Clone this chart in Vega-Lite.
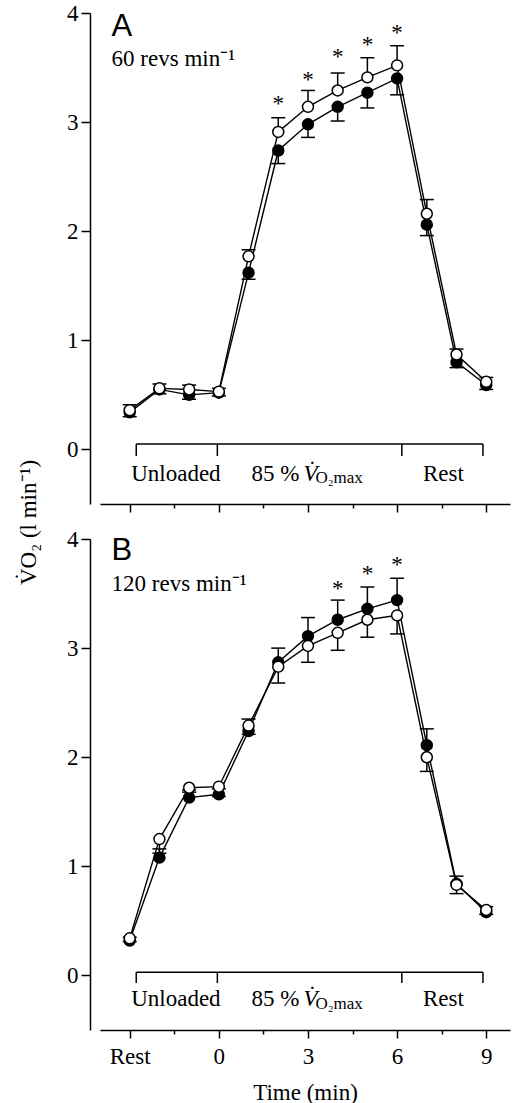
{
  "$schema": "https://vega.github.io/schema/vega-lite/v6.json",
  "background": "white",
  "padding": {"left": 17, "top": 2, "right": 3, "bottom": 0},
  "bounds": "flush",
  "spacing": 35,
  "config": {
    "view": {"stroke": null},
    "axis": {"domainColor": "black", "tickColor": "black", "labelColor": "black", "titleColor": "black", "labelFont": "Liberation Serif", "titleFont": "Liberation Serif", "labelFontSize": 23, "titleFontSize": 23, "titleFontWeight": "normal", "domainWidth": 1.5, "tickWidth": 1.5, "grid": false, "labelFlush": false},
    "text": {"font": "Liberation Serif", "color": "black"}
  },
  "datasets": {
    "ptsA": [
      {"g": "o", "x": -3, "y": 0.36, "e": 0.41}, {"g": "o", "x": -2, "y": 0.56, "e": 0.60}, {"g": "o", "x": -1, "y": 0.55, "e": 0.59}, {"g": "o", "x": 0, "y": 0.53, "e": 0.56}, {"g": "o", "x": 1, "y": 1.77, "e": 1.83}, {"g": "o", "x": 2, "y": 2.91, "e": 3.04}, {"g": "o", "x": 3, "y": 3.14, "e": 3.29}, {"g": "o", "x": 4, "y": 3.29, "e": 3.45}, {"g": "o", "x": 5, "y": 3.41, "e": 3.59}, {"g": "o", "x": 6, "y": 3.52, "e": 3.70}, {"g": "o", "x": 7, "y": 2.16, "e": 2.29}, {"g": "o", "x": 8, "y": 0.87, "e": 0.92}, {"g": "o", "x": 9, "y": 0.62, "e": 0.66},
      {"g": "f", "x": -3, "y": 0.34, "e": 0.30}, {"g": "f", "x": -2, "y": 0.55, "e": 0.51}, {"g": "f", "x": -1, "y": 0.50, "e": 0.46}, {"g": "f", "x": 0, "y": 0.52, "e": 0.49}, {"g": "f", "x": 1, "y": 1.62, "e": 1.56}, {"g": "f", "x": 2, "y": 2.74, "e": 2.62}, {"g": "f", "x": 3, "y": 2.98, "e": 2.86}, {"g": "f", "x": 4, "y": 3.14, "e": 3.01}, {"g": "f", "x": 5, "y": 3.27, "e": 3.13}, {"g": "f", "x": 6, "y": 3.40, "e": 3.25}, {"g": "f", "x": 7, "y": 2.06, "e": 1.96}, {"g": "f", "x": 8, "y": 0.80, "e": 0.75}, {"g": "f", "x": 9, "y": 0.59, "e": 0.55}
    ],
    "ptsB": [
      {"g": "o", "x": -3, "y": 0.34, "e": 0.31}, {"g": "o", "x": -2, "y": 1.25, "e": 1.12}, {"g": "o", "x": -1, "y": 1.72, "e": 1.68}, {"g": "o", "x": 0, "y": 1.73, "e": 1.64}, {"g": "o", "x": 1, "y": 2.29, "e": 2.21}, {"g": "o", "x": 2, "y": 2.83, "e": 2.68}, {"g": "o", "x": 3, "y": 3.02, "e": 2.87}, {"g": "o", "x": 4, "y": 3.14, "e": 2.98}, {"g": "o", "x": 5, "y": 3.26, "e": 3.10}, {"g": "o", "x": 6, "y": 3.30, "e": 3.13}, {"g": "o", "x": 7, "y": 2.00, "e": 1.87}, {"g": "o", "x": 8, "y": 0.83, "e": 0.75}, {"g": "o", "x": 9, "y": 0.60, "e": 0.56},
      {"g": "f", "x": -3, "y": 0.32, "e": 0.35}, {"g": "f", "x": -2, "y": 1.08, "e": 1.16}, {"g": "f", "x": -1, "y": 1.63, "e": 1.70}, {"g": "f", "x": 0, "y": 1.66, "e": 1.71}, {"g": "f", "x": 1, "y": 2.24, "e": 2.35}, {"g": "f", "x": 2, "y": 2.87, "e": 3.00}, {"g": "f", "x": 3, "y": 3.11, "e": 3.28}, {"g": "f", "x": 4, "y": 3.26, "e": 3.44}, {"g": "f", "x": 5, "y": 3.36, "e": 3.56}, {"g": "f", "x": 6, "y": 3.44, "e": 3.64}, {"g": "f", "x": 7, "y": 2.11, "e": 2.26}, {"g": "f", "x": 8, "y": 0.84, "e": 0.91}, {"g": "f", "x": 9, "y": 0.58, "e": 0.63}
    ],
    "starA": [{"x": 2, "y": 3.19}, {"x": 3, "y": 3.41}, {"x": 4, "y": 3.62}, {"x": 5, "y": 3.73}, {"x": 6, "y": 3.84}],
    "starB": [{"x": 4, "y": 3.57}, {"x": 5, "y": 3.71}, {"x": 6, "y": 3.79}],
    "brkA": [
      {"x": -2.78, "x2": 8.89, "y": 0.05, "y2": 0.05},
      {"x": -2.78, "x2": -2.78, "y": 0.05, "y2": -0.06},
      {"x": -0.05, "x2": -0.05, "y": 0.05, "y2": -0.06},
      {"x": 6.16, "x2": 6.16, "y": 0.05, "y2": -0.06},
      {"x": 8.89, "x2": 8.89, "y": 0.05, "y2": -0.06}
    ],
    "brkB": [
      {"x": -2.78, "x2": 8.89, "y": 0.03, "y2": 0.03},
      {"x": -2.78, "x2": -2.78, "y": 0.03, "y2": -0.07},
      {"x": -0.05, "x2": -0.05, "y": 0.03, "y2": -0.07},
      {"x": 6.16, "x2": 6.16, "y": 0.03, "y2": -0.07},
      {"x": 8.89, "x2": 8.89, "y": 0.03, "y2": -0.07}
    ],
    "txtA": [
      {"k": "let", "x": -3.61, "y": 3.79, "s": "A"},
      {"k": "txt", "x": -3.61, "y": 3.51, "s": "60 revs min⁻¹"},
      {"k": "txt", "x": -2.95, "y": -0.285, "s": "Unloaded"},
      {"k": "txt", "x": 1.10, "y": -0.285, "s": "85 %"},
      {"k": "ital", "x": 2.85, "y": -0.285, "s": "V̇"},
      {"k": "sub", "x": 3.25, "y": -0.31, "s": "O₂max"},
      {"k": "txt", "x": 6.87, "y": -0.285, "s": "Rest"}
    ],
    "txtB": [
      {"k": "let", "x": -3.61, "y": 3.81, "s": "B"},
      {"k": "txt", "x": -3.61, "y": 3.52, "s": "120 revs min⁻¹"},
      {"k": "txt", "x": -2.95, "y": -0.28, "s": "Unloaded"},
      {"k": "txt", "x": 1.10, "y": -0.28, "s": "85 %"},
      {"k": "ital", "x": 2.85, "y": -0.28, "s": "V̇"},
      {"k": "sub", "x": 3.25, "y": -0.305, "s": "O₂max"},
      {"k": "txt", "x": 6.87, "y": -0.28, "s": "Rest"}
    ]
  },
  "vconcat": [
    {
      "width": 410,
      "height": 491,
      "encoding": {
        "x": {"field": "x", "type": "quantitative", "scale": {"domain": [-4, 9.8], "nice": false, "zero": false},
          "axis": {"values": [-3, -1.5, 0, 1.5, 3, 4.5, 6, 7.5, 9], "labels": false, "title": null, "tickSize": {"condition": {"test": "datum.value % 3 === 0", "value": 8}, "value": 4}}},
        "y": {"field": "y", "type": "quantitative", "scale": {"domain": [-0.5, 4], "nice": false, "zero": false},
          "axis": {"values": [0, 0.5, 1, 1.5, 2, 2.5, 3, 3.5, 4], "format": "d", "offset": 10, "labelPadding": 3, "labelExpr": "datum.value % 1 === 0 ? datum.label : ''", "tickSize": {"condition": {"test": "datum.value % 1 === 0", "value": 9}, "value": 4},
            "title": "V̇O₂ (l min⁻¹)", "titleX": -55, "titleY": 509, "titleAngle": 270, "titleAlign": "center", "titleBaseline": "alphabetic"}}
      },
      "layer": [
        {"data": {"name": "brkA"}, "mark": {"type": "rule", "color": "black", "strokeWidth": 1.5}, "encoding": {"x2": {"field": "x2"}, "y2": {"field": "y2"}}},
        {"data": {"name": "txtA"}, "transform": [{"filter": "datum.k === 'txt'"}], "mark": {"type": "text", "align": "left", "baseline": "alphabetic", "fontSize": 23}, "encoding": {"text": {"field": "s"}}},
        {"data": {"name": "txtA"}, "transform": [{"filter": "datum.k === 'ital'"}], "mark": {"type": "text", "align": "left", "baseline": "alphabetic", "fontSize": 23, "fontStyle": "italic"}, "encoding": {"text": {"field": "s"}}},
        {"data": {"name": "txtA"}, "transform": [{"filter": "datum.k === 'sub'"}], "mark": {"type": "text", "align": "left", "baseline": "alphabetic", "fontSize": 17}, "encoding": {"text": {"field": "s"}}},
        {"data": {"name": "txtA"}, "transform": [{"filter": "datum.k === 'let'"}], "mark": {"type": "text", "align": "left", "baseline": "alphabetic", "fontSize": 31, "font": "Liberation Sans"}, "encoding": {"text": {"field": "s"}}},
        {"data": {"name": "ptsA"}, "mark": {"type": "line", "color": "black", "strokeWidth": 1.4}, "encoding": {"detail": {"field": "g"}, "order": {"field": "x"}}},
        {"data": {"name": "ptsA"}, "mark": {"type": "rule", "color": "black", "strokeWidth": 1.5}, "encoding": {"y2": {"field": "e"}}},
        {"data": {"name": "ptsA"}, "mark": {"type": "tick", "orient": "horizontal", "color": "black", "size": 14, "thickness": 1.5, "opacity": 1}, "encoding": {"y": {"field": "e", "type": "quantitative"}}},
        {"data": {"name": "ptsA"}, "transform": [{"filter": "datum.g === 'f'"}], "mark": {"type": "point", "shape": "circle", "filled": true, "fill": "black", "stroke": "black", "strokeWidth": 1.5, "size": 120, "opacity": 1}},
        {"data": {"name": "ptsA"}, "transform": [{"filter": "datum.g === 'o'"}], "mark": {"type": "point", "shape": "circle", "filled": true, "fill": "white", "stroke": "black", "strokeWidth": 1.5, "size": 120, "opacity": 1}},
        {"data": {"name": "starA"}, "mark": {"type": "text", "text": "*", "align": "center", "baseline": "alphabetic", "dy": 10, "fontSize": 23}}
      ]
    },
    {
      "width": 410,
      "height": 491,
      "encoding": {
        "x": {"field": "x", "type": "quantitative", "scale": {"domain": [-4, 9.8], "nice": false, "zero": false},
          "axis": {"values": [-3, -1.5, 0, 1.5, 3, 4.5, 6, 7.5, 9], "labelExpr": "datum.value === -3 ? 'Rest' : (datum.value % 3 === 0 ? datum.label : '')", "labelPadding": 7, "title": "Time (min)", "titlePadding": 13, "tickSize": {"condition": {"test": "datum.value % 3 === 0", "value": 8}, "value": 4}}},
        "y": {"field": "y", "type": "quantitative", "scale": {"domain": [-0.5, 4], "nice": false, "zero": false},
          "axis": {"values": [0, 0.5, 1, 1.5, 2, 2.5, 3, 3.5, 4], "format": "d", "offset": 10, "labelPadding": 3, "labelExpr": "datum.value % 1 === 0 ? datum.label : ''", "tickSize": {"condition": {"test": "datum.value % 1 === 0", "value": 9}, "value": 4}, "title": null}}
      },
      "layer": [
        {"data": {"name": "brkB"}, "mark": {"type": "rule", "color": "black", "strokeWidth": 1.5}, "encoding": {"x2": {"field": "x2"}, "y2": {"field": "y2"}}},
        {"data": {"name": "txtB"}, "transform": [{"filter": "datum.k === 'txt'"}], "mark": {"type": "text", "align": "left", "baseline": "alphabetic", "fontSize": 23}, "encoding": {"text": {"field": "s"}}},
        {"data": {"name": "txtB"}, "transform": [{"filter": "datum.k === 'ital'"}], "mark": {"type": "text", "align": "left", "baseline": "alphabetic", "fontSize": 23, "fontStyle": "italic"}, "encoding": {"text": {"field": "s"}}},
        {"data": {"name": "txtB"}, "transform": [{"filter": "datum.k === 'sub'"}], "mark": {"type": "text", "align": "left", "baseline": "alphabetic", "fontSize": 17}, "encoding": {"text": {"field": "s"}}},
        {"data": {"name": "txtB"}, "transform": [{"filter": "datum.k === 'let'"}], "mark": {"type": "text", "align": "left", "baseline": "alphabetic", "fontSize": 31, "font": "Liberation Sans"}, "encoding": {"text": {"field": "s"}}},
        {"data": {"name": "ptsB"}, "mark": {"type": "line", "color": "black", "strokeWidth": 1.4}, "encoding": {"detail": {"field": "g"}, "order": {"field": "x"}}},
        {"data": {"name": "ptsB"}, "mark": {"type": "rule", "color": "black", "strokeWidth": 1.5}, "encoding": {"y2": {"field": "e"}}},
        {"data": {"name": "ptsB"}, "mark": {"type": "tick", "orient": "horizontal", "color": "black", "size": 14, "thickness": 1.5, "opacity": 1}, "encoding": {"y": {"field": "e", "type": "quantitative"}}},
        {"data": {"name": "ptsB"}, "transform": [{"filter": "datum.g === 'f'"}], "mark": {"type": "point", "shape": "circle", "filled": true, "fill": "black", "stroke": "black", "strokeWidth": 1.5, "size": 120, "opacity": 1}},
        {"data": {"name": "ptsB"}, "transform": [{"filter": "datum.g === 'o'"}], "mark": {"type": "point", "shape": "circle", "filled": true, "fill": "white", "stroke": "black", "strokeWidth": 1.5, "size": 120, "opacity": 1}},
        {"data": {"name": "starB"}, "mark": {"type": "text", "text": "*", "align": "center", "baseline": "alphabetic", "dy": 10, "fontSize": 23}}
      ]
    }
  ]
}
